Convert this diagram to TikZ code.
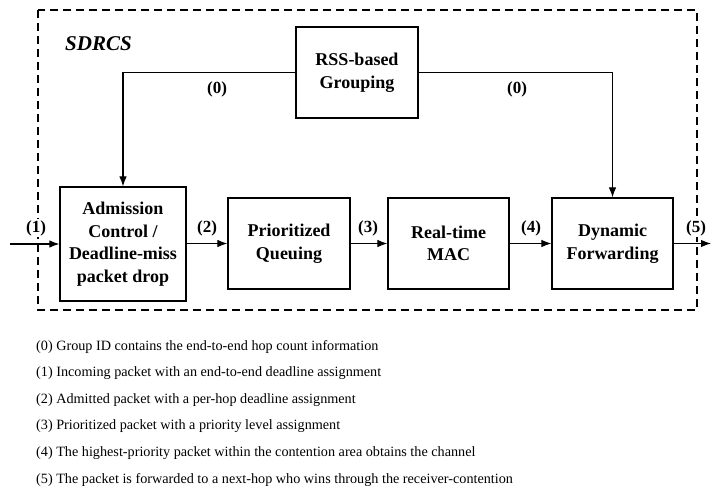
\documentclass[tikz,border=0pt]{standalone}
\usepackage{fontspec}
\setmainfont{Liberation Serif}
\usetikzlibrary{arrows.meta}
\begin{document}
\begin{tikzpicture}[x=1pt,y=-1pt,
  blk/.style={draw,line width=1.2pt,align=center,font=\fontsize{18}{22.5}\selectfont\bfseries,inner sep=0pt},
  lbl/.style={font=\fontsize{17}{20}\selectfont\bfseries,inner sep=1pt,fill=white},
  leg/.style={font=\fontsize{14.2}{16}\selectfont,anchor=base west,inner sep=0pt},
  conn/.style={line width=1.1pt,-{Latex[length=10pt,width=7.5pt]}}]
\useasboundingbox (0,0) rectangle (711,486);
\draw[line width=1.2pt,dash pattern=on 8pt off 5pt] (38,10) rectangle (697,310);
\node[font=\fontsize{21}{24}\selectfont\bfseries\itshape,anchor=west,inner sep=0pt] (sd) at (65,44) {SDRCS};
\node[blk,minimum width=122,minimum height=91] (rss) at (357,72.5) {RSS-based\\Grouping};
\node[blk,minimum width=126,minimum height=114] (adm) at (123,244) {Admission\\Control /\\Deadline-miss\\packet drop};
\node[blk,minimum width=122,minimum height=91] (pq) at (289,243.5) {Prioritized\\Queuing};
\node[blk,minimum width=121,minimum height=91] (mac) at (448.5,243.5) {Real-time\\MAC};
\node[blk,minimum width=121,minimum height=91] (df) at (612.5,243.5) {Dynamic\\Forwarding};
\coordinate (in) at (10,244);
\coordinate (out) at (711,243.5);
\draw[conn] (rss.west) -| (adm.north);
\draw[conn] (rss.east) -| (df.north);
\draw[conn] (in) -- (adm.west);
\draw[conn] (adm.east |- pq.west) -- (pq.west);
\draw[conn] (pq.east) -- (mac.west);
\draw[conn] (mac.east) -- (df.west);
\draw[conn] (df.east) -- (out);
\node[lbl] (l0a) at (217,89) {(0)};
\node[lbl] (l0b) at (517,89) {(0)};
\node[lbl] (l1) at (36,228) {(1)};
\node[lbl] (l2) at (207,228) {(2)};
\node[lbl] (l3) at (368,228) {(3)};
\node[lbl] (l4) at (531,228) {(4)};
\node[lbl] (l5) at (696,228) {(5)};
\node[leg] (g0) at (36,350) {(0) Group ID contains the end-to-end hop count information};
\node[leg] (g1) at (36,376.6) {(1) Incoming packet with an end-to-end deadline assignment};
\node[leg] (g2) at (36,403.2) {(2) Admitted packet with a per-hop deadline assignment};
\node[leg] (g3) at (36,429.8) {(3) Prioritized packet with a priority level assignment};
\node[leg] (g4) at (36,456.4) {(4) The highest-priority packet within the contention area obtains the channel};
\node[leg] (g5) at (36,483) {(5) The packet is forwarded to a next-hop who wins through the receiver-contention};
\end{tikzpicture}
\end{document}
